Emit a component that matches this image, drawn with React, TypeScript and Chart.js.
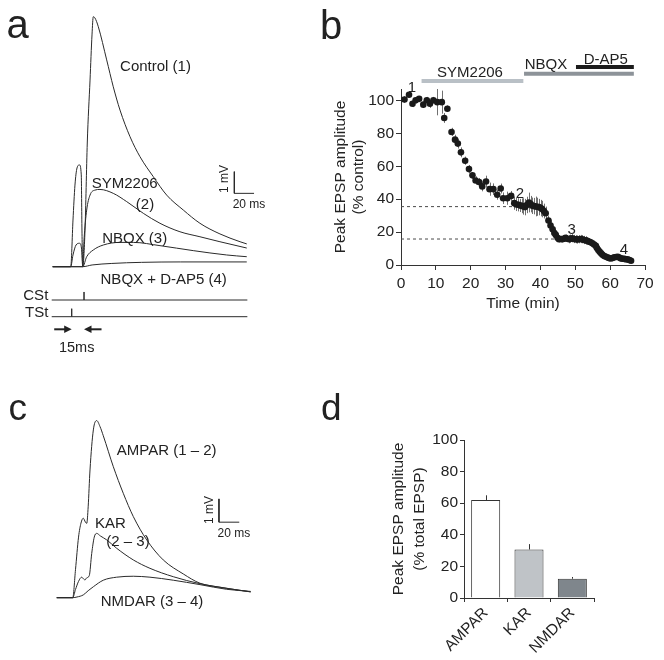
import React, { useEffect, useRef } from 'react';
import { Chart, registerables } from 'chart.js';

Chart.register(...registerables);

const FONT = "'Liberation Sans', Arial, Helvetica, sans-serif";
const INK = '#222222';
const LINE = '#333333';

// ---------- Panel a: EPSP traces [time (ms), amplitude (mV)] ----------
const controlTrace = [[0, 0], [18.3, 0], [20.6, 2.15], [22.6, 3.76], [24.7, 4.55], [27.2, 4.69], [29.0, 4.23], [29.7, 1.69], [30.5, 0], [32.8, 1.69], [35.1, 5.7], [37.9, 8.6], [39.9, 10.68], [41.2, 11.52], [42.9, 11.46], [46.3, 11.06], [54.8, 9.53], [61.5, 8.29], [68.3, 7.22], [78.5, 5.99], [88.6, 5.07], [102.1, 4.15], [115.7, 3.3], [132.6, 2.61], [149.5, 2.0], [169.8, 1.51], [190.2, 1.15], [197, 1.05]];
const sym2206Trace = [[0, 0], [18.3, 0], [20.6, 0.54], [23.7, 1.0], [27.2, 1.08], [29.2, 0.86], [30.5, 0], [31.8, 1.23], [34.5, 2.61], [37.9, 3.3], [42.9, 3.53], [48.0, 3.56], [61.5, 3.38], [75.1, 3.0], [92, 2.46], [108.9, 2.0], [129.2, 1.61], [149.5, 1.38], [169.8, 1.15], [197, 0.86]];
const nbqxTrace = [[0, 0], [30.5, 0], [34.5, 0.46], [41.2, 0.77], [51.4, 1.0], [68.3, 1.12], [81.8, 1.12], [108.9, 0.97], [142.7, 0.74], [176.6, 0.54], [197, 0.46]];
const nbqxDap5Trace = [[0, 0], [30.5, 0], [40, 0.08], [60, 0.15], [90, 0.2], [130, 0.22], [197, 0.22]];
const tstTime = 19.3;
const cstTime = 31.8;
const stimSpan = [-1, 197.6];

// ---------- Panel b: time course ----------
const bTime = [1.0, 2.3, 3.3, 4.2, 5.2, 6.4, 7.4, 8.3, 9.3, 10.4, 11.7, 12.4, 13.3, 14.5, 15.5, 16.3, 17.2, 18.4, 19.5, 20.5, 21.4, 22.4, 23.3, 24.4, 25.4, 26.5, 27.6, 28.6, 29.3, 30.5, 31.6, 32.5, 33.1, 33.7, 34.2, 34.6, 35.1, 35.6, 36.1, 36.7, 37.2, 37.7, 38.2, 38.6, 39.1, 39.6, 40.1, 40.5, 41.0, 41.5, 42.3, 42.9, 43.5, 44.0, 44.4, 44.9, 45.3, 45.8, 46.3, 46.7, 47.2, 47.7, 48.2, 48.6, 49.1, 49.6, 50.1, 50.6, 51.1, 51.5, 52.0, 52.5, 53.0, 53.4, 53.9, 54.4, 54.9, 55.4, 55.9, 56.2, 56.6, 57.0, 57.4, 57.8, 58.3, 58.8, 59.3, 59.7, 60.2, 60.7, 61.2, 61.7, 62.2, 62.6, 63.1, 63.6, 64.1, 64.5, 65.0, 65.5, 66.0];
const bAmp = [100.6, 103.5, 98, 100.2, 101, 97.5, 100.2, 98, 100.2, 99, 99, 89.4, 95, 80.9, 76.2, 73.8, 68.5, 63.4, 58.3, 54.5, 51.4, 50.4, 47.8, 50.8, 46.1, 46.1, 42.7, 46.5, 40.6, 40.6, 42, 37.6, 36.8, 36.6, 36.2, 36, 35.6, 35.2, 36.5, 38, 37, 36, 35.8, 35.6, 35.4, 35.2, 34.6, 34, 32.8, 31.5, 27, 24, 21.7, 19.5, 18.3, 16.5, 15.7, 15.8, 15.7, 16, 16.5, 16, 15.7, 16, 16.3, 15.8, 15.7, 15.5, 15.7, 15.8, 15.7, 15.2, 15, 14.7, 14.2, 13.8, 13.2, 12.5, 11.6, 10.3, 9.1, 8, 7.1, 6.2, 5.5, 5, 4.5, 4.2, 4, 4.3, 4.7, 4.9, 5, 4.5, 4, 3.8, 3.7, 3.5, 3.4, 3, 2.6];
const bErr = [2, 1.5, 2, 2, 1.5, 2, 2, 2.5, 2, 8, 7, 3, 2, 2.5, 3, 3, 3, 2.5, 2.5, 2, 2.5, 2.5, 3, 3.5, 4, 3.5, 3, 3, 3.5, 4, 3, 4, 4, 4, 4, 4.5, 5, 5, 5, 6, 5, 5, 5, 6, 5.5, 5, 5, 5, 4.5, 4, 3, 3, 2, 2, 2, 2, 2, 2, 2, 2, 2, 2, 2.5, 2.5, 2.5, 2.5, 2.5, 2.5, 2.5, 2.5, 2.5, 2.5, 2.5, 2, 2, 2, 2, 1.5, 1.5, 1.5, 1.5, 1.5, 1.5, 1, 1, 1, 1, 1, 1, 1, 1, 1, 1, 1, 1, 1, 1, 1, 1, 1, 1];
const xTicksB = [0, 10, 20, 30, 40, 50, 60, 70];
const yTicksB = [0, 20, 40, 60, 80, 100];
const drugNames = ['SYM2206', 'NBQX', 'D-AP5'];
const drugStart = [5.9, 35.3, 50.2];
const drugEnd = [35.1, 66.8, 66.8];
const refLevels = [35.5, 15.8];
const refEnd = [32, 44];
const pointLabels = ['1', '2', '3', '4'];

// ---------- Panel c: subtracted traces ----------
const ampaTrace = [[0, 0], [15.8, 0], [18.5, 1.2], [21.5, 2.6], [23.9, 3.2], [26.2, 3.41], [28.2, 3.25], [29.6, 3.19], [31.0, 3.9], [32.8, 5.48], [36.1, 7.2], [39.4, 7.6], [42.7, 7.34], [45.9, 6.95], [55.8, 5.62], [65.6, 4.48], [75.5, 3.48], [88.7, 2.48], [105, 1.62], [124.7, 1.02], [141.2, 0.62], [160.9, 0.45], [191.1, 0.25]];
const karTrace = [[0, 0], [15.8, 0], [18.5, 0.35], [21.5, 0.7], [24.6, 0.88], [26.5, 0.8], [27.9, 0.76], [29.5, 0.85], [32.1, 0.95], [34.5, 1.9], [37.0, 2.6], [39.4, 2.76], [43, 2.65], [49.3, 2.48], [59.1, 2.12], [75.5, 1.62], [91.9, 1.26], [114.9, 0.9], [141.2, 0.6], [167.5, 0.4], [191.1, 0.25]];
const nmdaTrace = [[0, 0], [15.8, 0], [20, 0.03], [26.2, 0.12], [31, 0.3], [36.1, 0.47], [45.9, 0.75], [59.1, 0.88], [75.5, 0.92], [91.9, 0.88], [114.9, 0.75], [141.2, 0.56], [167.5, 0.36], [191.1, 0.27]];

// ---------- Panel d: bar chart ----------
const dCats = ['AMPAR', 'KAR', 'NMDAR'];
const dVals = [62, 30.7, 12.2];
const dErrs = [3, 3.4, 1.1];
const yTicksD = [0, 20, 40, 60, 80, 100];

const toXY = (arr: number[][]) => arr.map(([x, y]) => ({ x, y }));

const traceDs = (arr: number[][]) => ({
  data: toXY(arr),
  borderColor: '#2a2a2a',
  borderWidth: 1,
  pointRadius: 0,
  cubicInterpolationMode: 'monotone',
  fill: false,
});

const baseOpts = {
  animation: false,
  responsive: false,
  maintainAspectRatio: false,
  devicePixelRatio: 1,
  events: [],
  plugins: { legend: { display: false }, tooltip: { enabled: false } },
};

function drawArrow(ctx: CanvasRenderingContext2D, x0: number, x1: number, y: number) {
  const dir = Math.sign(x1 - x0);
  ctx.save();
  ctx.strokeStyle = '#222';
  ctx.fillStyle = '#222';
  ctx.lineWidth = 2;
  ctx.beginPath();
  ctx.moveTo(x0, y);
  ctx.lineTo(x1 - dir * 5, y);
  ctx.stroke();
  ctx.beginPath();
  ctx.moveTo(x1, y);
  ctx.lineTo(x1 - dir * 7.5, y - 3.8);
  ctx.lineTo(x1 - dir * 7.5, y + 3.8);
  ctx.closePath();
  ctx.fill();
  ctx.restore();
}

function PanelA() {
  const ref = useRef<HTMLCanvasElement>(null);
  useEffect(() => {
    const cstLevel = -1.535;
    const tstLevel = -2.304;
    const tickH = 0.37;
    const arrowLevel = -2.885;
    const bar = { t: 184.4, v: 3.38 };
    const arrowPlugin = {
      id: 'arrowsA',
      afterDatasetsDraw(chart: any) {
        const { ctx, scales } = chart;
        const yy = scales.y.getPixelForValue(arrowLevel);
        const tx = scales.x.getPixelForValue(tstTime);
        const cx = scales.x.getPixelForValue(cstTime);
        drawArrow(ctx, tx - 17.5, tx, yy);
        drawArrow(ctx, cx + 17.5, cx, yy);
      },
    };
    const plain = (data: any[]) => ({ data, borderColor: '#2a2a2a', borderWidth: 1, pointRadius: 0, tension: 0, fill: false });
    const chart = new Chart(ref.current!, {
      type: 'line',
      data: {
        datasets: [
          traceDs(nbqxDap5Trace),
          traceDs(nbqxTrace),
          traceDs(sym2206Trace),
          traceDs(controlTrace),
          plain([{ x: stimSpan[0], y: cstLevel }, { x: cstTime, y: cstLevel }, { x: cstTime, y: cstLevel + tickH }, { x: cstTime, y: cstLevel }, { x: stimSpan[1], y: cstLevel }]),
          plain([{ x: stimSpan[0], y: tstLevel }, { x: tstTime, y: tstLevel }, { x: tstTime, y: tstLevel + tickH }, { x: tstTime, y: tstLevel }, { x: stimSpan[1], y: tstLevel }]),
          plain([{ x: bar.t, y: bar.v + 1 }, { x: bar.t, y: bar.v }, { x: bar.t + 20, y: bar.v }]),
        ] as any,
      },
      options: {
        ...baseOpts,
        layout: { padding: 0 },
        scales: {
          x: { type: 'linear', display: false, min: -53.5, max: 220.6 },
          y: { type: 'linear', display: false, min: -3.378, max: 12.29 },
        },
      } as any,
      plugins: [arrowPlugin],
    });
    return () => chart.destroy();
  }, []);
  return <canvas ref={ref} width={270} height={340} style={{ position: 'absolute', left: 0, top: 0, width: 270, height: 340 }} />;
}

function PanelC() {
  const ref = useRef<HTMLCanvasElement>(null);
  useEffect(() => {
    const bar = { t: 159.9, v: 3.24 };
    const chart = new Chart(ref.current!, {
      type: 'line',
      data: {
        datasets: [
          traceDs(nmdaTrace),
          traceDs(karTrace),
          traceDs(ampaTrace),
          { data: [{ x: bar.t, y: bar.v + 1 }, { x: bar.t, y: bar.v }, { x: bar.t + 20, y: bar.v }], borderColor: '#2a2a2a', borderWidth: 1, pointRadius: 0, tension: 0 },
        ] as any,
      },
      options: {
        ...baseOpts,
        layout: { padding: 0 },
        scales: {
          x: { type: 'linear', display: false, min: -55.9, max: 210.2 },
          y: { type: 'linear', display: false, min: -2.674, max: 10.2 },
        },
      } as any,
    });
    return () => chart.destroy();
  }, []);
  return <canvas ref={ref} width={270} height={300} style={{ position: 'absolute', left: 0, top: 360, width: 270, height: 300 }} />;
}

function PanelB() {
  const ref = useRef<HTMLCanvasElement>(null);
  useEffect(() => {
    const drugLevel = [111.8, 116.3, 120.3];
    const drugColors = ['#b9c0c6', '#8d9399', '#1c1c1c'];
    const tickFont = { family: FONT, size: 15.5 };
    const errPlugin = {
      id: 'errB',
      beforeDatasetsDraw(chart: any) {
        const { ctx, scales } = chart;
        ctx.save();
        ctx.strokeStyle = '#707070';
        ctx.lineWidth = 1;
        bTime.forEach((t, i) => {
          const px = Math.round(scales.x.getPixelForValue(t)) + 0.5;
          ctx.beginPath();
          ctx.moveTo(px, scales.y.getPixelForValue(bAmp[i] + bErr[i]));
          ctx.lineTo(px, scales.y.getPixelForValue(bAmp[i] - bErr[i]));
          ctx.stroke();
        });
        ctx.restore();
      },
    };
    const chart = new Chart(ref.current!, {
      type: 'scatter',
      data: {
        datasets: [
          {
            data: bTime.map((t, i) => ({ x: t, y: bAmp[i] })),
            pointRadius: 3.3,
            pointBackgroundColor: '#1a1a1a',
            pointBorderWidth: 0,
            showLine: false,
            order: 0,
          },
          ...refLevels.map((v, i) => ({
            data: [{ x: 0, y: v }, { x: refEnd[i], y: v }],
            showLine: true,
            borderColor: '#4a4a4a',
            borderWidth: 1,
            borderDash: [3, 3],
            pointRadius: 0,
            order: 2,
          })),
          ...drugNames.map((n, i) => ({
            label: n,
            data: [{ x: drugStart[i], y: drugLevel[i] }, { x: drugEnd[i], y: drugLevel[i] }],
            showLine: true,
            borderColor: drugColors[i],
            borderWidth: 4,
            borderCapStyle: 'butt',
            pointRadius: 0,
            clip: false,
            order: 3,
          })),
        ] as any,
      },
      options: {
        ...baseOpts,
        layout: { padding: { top: 89, right: 19, left: 0, bottom: 0 } },
        scales: {
          x: {
            type: 'linear',
            min: 0,
            max: 70,
            afterBuildTicks: (s: any) => { s.ticks = xTicksB.map((v) => ({ value: v })); },
            ticks: { font: tickFont, color: INK, padding: 4, autoSkip: false, maxRotation: 0 },
            grid: { drawOnChartArea: false, tickLength: 5, color: LINE },
            border: { color: LINE },
            title: { display: true, text: 'Time (min)', font: { family: FONT, size: 15.5 }, color: INK, padding: { top: 0, bottom: 17 } },
            afterFit: (s: any) => { s.height = 65; },
          },
          y: {
            type: 'linear',
            min: 0,
            max: 107,
            afterBuildTicks: (s: any) => { s.ticks = yTicksB.map((v) => ({ value: v })); },
            ticks: { font: tickFont, color: INK, padding: 2 },
            grid: { drawOnChartArea: false, tickLength: 5, color: LINE },
            border: { color: LINE },
            title: { display: true, text: ['Peak EPSP amplitude', '(% control)'], font: { family: FONT, size: 15.5, lineHeight: 1.2 }, color: INK, padding: { top: 1, bottom: 0 } },
            afterFit: (s: any) => { s.width = 71; },
          },
        },
      } as any,
      plugins: [errPlugin],
    });
    return () => chart.destroy();
  }, []);
  return <canvas ref={ref} width={334} height={330} style={{ position: 'absolute', left: 330, top: 0, width: 334, height: 330 }} />;
}

function PanelD() {
  const ref = useRef<HTMLCanvasElement>(null);
  useEffect(() => {
    const barColors = ['#ffffff', '#bfc3c7', '#7f868c'];
    const tickFont = { family: FONT, size: 15.5 };
    const errPlugin = {
      id: 'errD',
      afterDatasetsDraw(chart: any) {
        const { ctx, scales } = chart;
        const meta = chart.getDatasetMeta(0);
        ctx.save();
        ctx.strokeStyle = '#333';
        ctx.lineWidth = 1;
        meta.data.forEach((el: any, i: number) => {
          const px = Math.round(el.x) + 0.5;
          ctx.beginPath();
          ctx.moveTo(px, scales.y.getPixelForValue(dVals[i]));
          ctx.lineTo(px, scales.y.getPixelForValue(dVals[i] + dErrs[i]));
          ctx.stroke();
        });
        ctx.restore();
      },
    };
    const chart = new Chart(ref.current!, {
      type: 'bar',
      data: {
        labels: dCats,
        datasets: [{
          data: dVals,
          backgroundColor: barColors,
          borderColor: '#333',
          borderWidth: 1,
          barPercentage: 0.67,
          categoryPercentage: 1,
        }],
      },
      options: {
        ...baseOpts,
        layout: { padding: { top: 110, right: 70, left: 0, bottom: 0 } },
        scales: {
          x: {
            grid: { drawOnChartArea: false, tickLength: 4, offset: true, color: LINE },
            border: { color: LINE },
            ticks: { font: tickFont, color: INK, minRotation: 45, maxRotation: 45, padding: 2, autoSkip: false },
            afterFit: (s: any) => { s.height = 62; },
          },
          y: {
            min: 0,
            max: 100,
            afterBuildTicks: (s: any) => { s.ticks = yTicksD.map((v) => ({ value: v })); },
            ticks: { font: tickFont, color: INK, padding: 2 },
            grid: { drawOnChartArea: false, tickLength: 4, color: LINE },
            border: { color: LINE },
            title: { display: true, text: ['Peak EPSP amplitude', '(% total EPSP)'], font: { family: FONT, size: 15.5, lineHeight: 1.4 }, color: INK, padding: { top: 57.5, bottom: 0 } },
            afterFit: (s: any) => { s.width = 134; },
          },
        },
      } as any,
      plugins: [errPlugin],
    });
    return () => chart.destroy();
  }, []);
  return <canvas ref={ref} width={334} height={330} style={{ position: 'absolute', left: 330, top: 330, width: 334, height: 330 }} />;
}

function Txt({ x, y, s = 15, rot = 0, children }: any) {
  return (
    <div style={{
      position: 'absolute', left: x, top: y, fontSize: s, lineHeight: 1, whiteSpace: 'nowrap',
      transform: `translate(-50%, -50%) rotate(${rot}deg)`, color: INK, fontFamily: FONT,
    }}>{children}</div>
  );
}

function Letter({ x, base, s, children }: any) {
  return (
    <div style={{ position: 'absolute', left: x, top: base - 0.8465 * s, fontSize: s, lineHeight: 1, color: INK, fontFamily: FONT }}>{children}</div>
  );
}

export default function App() {
  return (
    <div style={{ position: 'fixed', left: 0, top: 0, width: 664, height: 660, background: '#ffffff', overflow: 'hidden', fontFamily: FONT }}>
      <PanelA />
      <PanelB />
      <PanelC />
      <PanelD />

      <Letter x={6.5} base={38} s={40}>a</Letter>
      <Letter x={320} base={39} s={40}>b</Letter>
      <Letter x={8.6} base={420} s={37}>c</Letter>
      <Letter x={321} base={420} s={37}>d</Letter>

      {/* panel a labels */}
      <Txt x={155.5} y={65}>Control (1)</Txt>
      <Txt x={124.7} y={181.7}>SYM2206</Txt>
      <Txt x={145} y={203.3}>(2)</Txt>
      <Txt x={134.7} y={236.7}>NBQX (3)</Txt>
      <Txt x={163.7} y={278.3}>NBQX + D-AP5 (4)</Txt>
      <Txt x={223.5} y={179} s={12} rot={-90}>1 mV</Txt>
      <Txt x={249} y={204} s={12}>20 ms</Txt>
      <Txt x={35.8} y={294}>CSt</Txt>
      <Txt x={36.7} y={310.5}>TSt</Txt>
      <Txt x={76.7} y={346.7} s={14.5}>15ms</Txt>

      {/* panel b labels */}
      <Txt x={470} y={70.8}>{drugNames[0]}</Txt>
      <Txt x={546} y={63.3}>{drugNames[1]}</Txt>
      <Txt x={605.8} y={58.3}>{drugNames[2]}</Txt>
      <Txt x={412} y={86}>{pointLabels[0]}</Txt>
      <Txt x={520} y={191.7}>{pointLabels[1]}</Txt>
      <Txt x={571.7} y={227.7}>{pointLabels[2]}</Txt>
      <Txt x={624} y={248.3}>{pointLabels[3]}</Txt>

      {/* panel c labels */}
      <Txt x={166.7} y={449}>AMPAR (1 – 2)</Txt>
      <Txt x={110.3} y={522}>KAR</Txt>
      <Txt x={128} y={540}>(2 – 3)</Txt>
      <Txt x={152} y={599.5}>NMDAR (3 – 4)</Txt>
      <Txt x={209.2} y={510} s={12} rot={-90}>1 mV</Txt>
      <Txt x={233.8} y={533.3} s={12}>20 ms</Txt>
    </div>
  );
}
